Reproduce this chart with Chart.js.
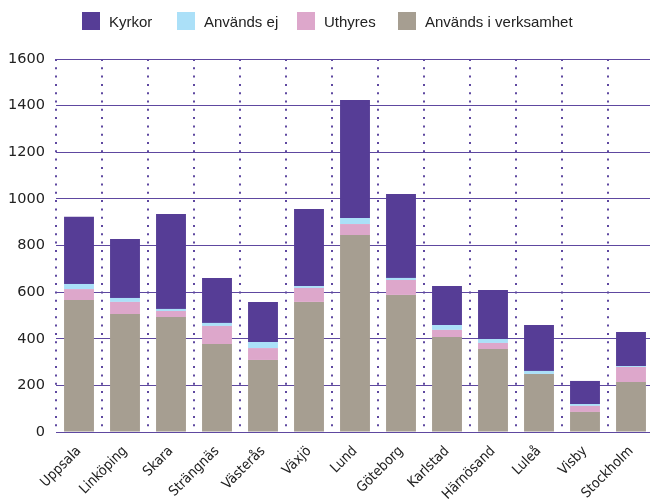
<!DOCTYPE html>
<html>
<head>
<meta charset="utf-8">
<script src="https://cdn.jsdelivr.net/npm/chart.js@4/dist/chart.umd.min.js"></script>
<style>
  html, body { margin: 0; padding: 0; overflow: hidden; background: #fff; }
  #wrap { position: relative; width: 656px; height: 499px; }
  #legend { position: absolute; left: 0; top: 0; width: 650px; height: 45px;
    font-family: "Liberation Sans", Arial, sans-serif; font-size: 15px; color: #222; }
  .item { position: absolute; top: 12px; display: flex; align-items: center; height: 18px; }
  .box { width: 18px; height: 18px; margin-right: 9px; }
  canvas { position: absolute; left: 0; top: 0; }
</style>
</head>
<body>
<div id="wrap">
  <canvas id="chart" width="656" height="499"></canvas>
  <div id="legend"></div>
</div>
<script>
// Stift (dioceses), left to right
const categories = ["Uppsala", "Linköping", "Skara", "Strängnäs", "Västerås", "Växjö", "Lund",
  "Göteborg", "Karlstad", "Härnösand", "Luleå", "Visby", "Stockholm"];

// stacked from the bottom up
const anvandsIVerksamhet = [566, 506, 493, 377, 309, 558, 845, 588, 407, 356, 249, 86, 214];
const uthyres = [47, 52, 26, 78, 51, 60, 47, 64, 31, 26, 0, 26, 65];
const anvandsEj = [22, 17, 9, 13, 26, 8, 26, 9, 21, 17, 13, 8, 4];
const kyrkor = [288, 253, 407, 193, 172, 331, 506, 360, 167, 210, 197, 99, 146];

const yTicks = [0, 200, 400, 600, 800, 1000, 1200, 1400, 1600];

const COLORS = {
  kyrkor: "#563d96",
  ej: "#abe0f8",
  uthyres: "#dda7cb",
  verksamhet: "#a69e91",
  grid: "#5e48a0"
};

// legend order as in the original (top row)
const legendItems = [
  { label: "Kyrkor", color: COLORS.kyrkor, x: 82 },
  { label: "Används ej", color: COLORS.ej, x: 177 },
  { label: "Uthyres", color: COLORS.uthyres, x: 297 },
  { label: "Används i verksamhet", color: COLORS.verksamhet, x: 398 }
];
document.getElementById("legend").innerHTML = legendItems.map((it) =>
  `<div class="item" style="left:${it.x}px"><div class="box" style="background:${it.color}"></div><span>${it.label}</span></div>`
).join("");

function ds(label, data, color) {
  return { label, data, backgroundColor: color, borderWidth: 0, barPercentage: 0.65, categoryPercentage: 1 };
}

new Chart(document.getElementById("chart"), {
  type: "bar",
  data: {
    labels: categories,
    datasets: [
      ds("Används i verksamhet", anvandsIVerksamhet, COLORS.verksamhet),
      ds("Uthyres", uthyres, COLORS.uthyres),
      ds("Används ej", anvandsEj, COLORS.ej),
      ds("Kyrkor", kyrkor, COLORS.kyrkor)
    ]
  },
  options: {
    responsive: false,
    animation: false,
    layout: { autoPadding: false, padding: { top: 59, right: 2, left: 0, bottom: 0 } },
    plugins: { legend: { display: false }, tooltip: { enabled: false } },
    scales: {
      x: {
        stacked: true,
        grid: { color: COLORS.grid, lineWidth: 2, drawTicks: false, offset: true },
        border: { display: true, color: COLORS.grid, width: 1, dash: [2, 6.3] },
        ticks: {
          color: "#222", padding: 11, minRotation: 45, maxRotation: 45, autoSkip: false,
          font: { family: "DejaVu Sans Condensed", size: 14 }
        },
        afterFit: (s) => { s.height = 67; }
      },
      y: {
        stacked: true,
        min: 0,
        max: 1600,
        afterBuildTicks: (s) => { s.ticks = yTicks.map((v) => ({ value: v })); },
        grid: { color: COLORS.grid, lineWidth: 1, drawTicks: false },
        border: { display: false },
        ticks: {
          color: "#222", padding: 11, font: { family: "DejaVu Sans", size: 14.5 },
          callback: (v) => String(v)
        },
        afterFit: (s) => { s.width = 56; }
      }
    }
  }
});
</script>
</body>
</html>
